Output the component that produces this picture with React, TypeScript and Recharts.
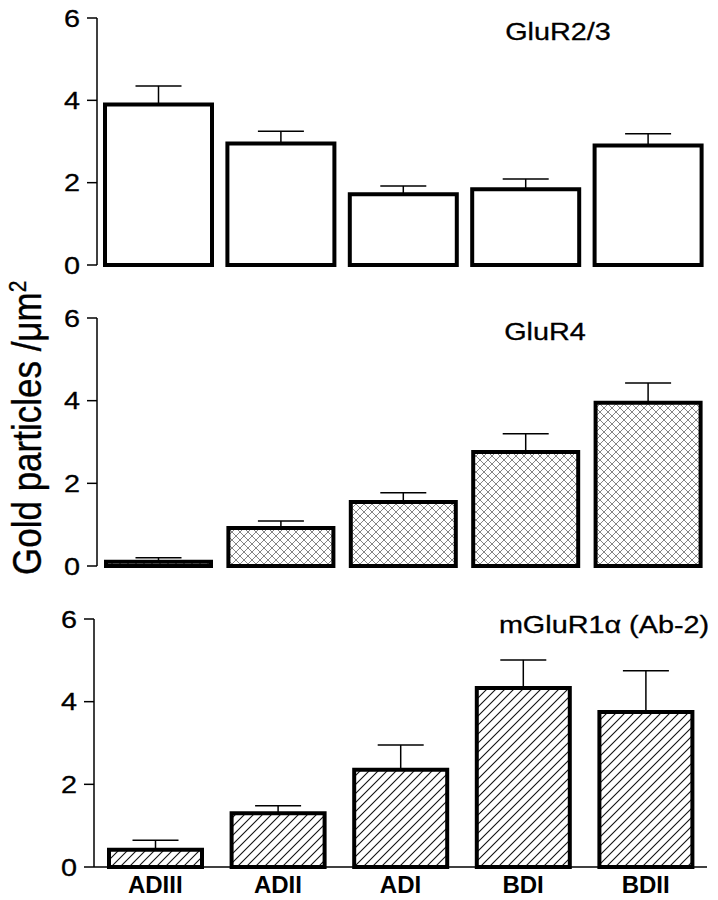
import React from "react";
import { BarChart, Bar, XAxis, YAxis, ErrorBar } from "recharts";

// regions along the dendrite
const categories = ["ADIII", "ADII", "ADI", "BDI", "BDII"];

// gold particles per um2 (mean, SEM)
const glur23 = [3.9, 2.95, 1.72, 1.84, 2.9];
const glur23Err = [0.45, 0.3, 0.2, 0.25, 0.29];

const glur4 = [0.1, 0.92, 1.55, 2.76, 3.95];
const glur4Err = [0.1, 0.17, 0.22, 0.44, 0.48];

const mglur1a = [0.42, 1.3, 2.35, 4.33, 3.75];
const mglur1aErr = [0.23, 0.18, 0.6, 0.68, 1.0];

const yTicks = [0, 2, 4, 6];

const build = (vals: number[], errs: number[]) =>
  categories.map((name, i) => ({ name, value: vals[i], err: [0, errs[i]] }));

const FONT = "'Liberation Sans', Arial, Helvetica, sans-serif";

const YTick = (props: any) => {
  const { x, y, payload } = props;
  return (
    <g transform={`translate(${x},${y})`}>
      <text
        transform="scale(1.2,1)"
        textAnchor="end"
        dy="0.36em"
        fontSize="24px"
        fill="#000"
        stroke="#000"
        strokeWidth={0.3}
        fontFamily={FONT}
      >
        {payload.value}
      </text>
    </g>
  );
};

interface PanelProps {
  data: any[];
  fill: string;
  barSize: number;
  yWidth: number;
  margin: { top: number; right: number; bottom: number; left: number };
  showLabels?: boolean;
  defs?: React.ReactNode;
}

function Panel({ data, fill, barSize, yWidth, margin, showLabels, defs }: PanelProps) {
  return (
    <BarChart width={718} height={300} data={data} margin={margin}>
      {defs}
      <XAxis
        dataKey="name"
        axisLine={{ stroke: "#000", strokeWidth: 1.5 }}
        tickLine={false}
        tick={showLabels ? { fill: "#000", fontSize: 24, fontWeight: "bold", fontFamily: FONT } : false}
        tickMargin={3}
        height={showLabels ? 30 : 0}
      />
      <YAxis
        domain={[0, 6]}
        ticks={yTicks}
        width={yWidth}
        tickSize={10}
        tickMargin={7}
        axisLine={{ stroke: "#000", strokeWidth: 1.5 }}
        tickLine={{ stroke: "#000", strokeWidth: 1.5 }}
        tick={(p: any) => <YTick {...p} />}
      />
      <Bar dataKey="value" fill={fill} stroke="#000" strokeWidth={4} barSize={barSize} isAnimationActive={false}>
        <ErrorBar dataKey="err" width={23} stroke="#000" strokeWidth={1.5} direction="y" />
      </Bar>
    </BarChart>
  );
}

export default function App() {
  return (
    <div style={{ position: "absolute", left: 0, top: 0, width: 718, height: 900, background: "#fff", fontFamily: FONT }}>
      <div style={{ position: "absolute", left: 0, top: 0 }}>
        <Panel
          data={build(glur23, glur23Err)}
          fill="#fff"
          barSize={107}
          yWidth={97}
          margin={{ top: 18, right: 9, bottom: 35, left: 0 }}
        />
      </div>
      <div style={{ position: "absolute", left: 0, top: 300 }}>
        <Panel
          data={build(glur4, glur4Err)}
          fill="url(#crossHatch)"
          barSize={105}
          yWidth={97}
          margin={{ top: 18, right: 9, bottom: 34, left: 0 }}
          defs={
            <defs>
              <pattern id="crossHatch" patternUnits="userSpaceOnUse" width={8} height={8}>
                <rect width={8} height={8} fill="#fff" />
                <path d="M0,0 L8,8 M8,0 L0,8" stroke="#666" strokeWidth={0.8} />
              </pattern>
            </defs>
          }
        />
      </div>
      <div style={{ position: "absolute", left: 0, top: 600 }}>
        <Panel
          data={build(mglur1a, mglur1aErr)}
          fill="url(#diagHatch)"
          barSize={93}
          yWidth={94}
          margin={{ top: 19, right: 11, bottom: 3, left: 0 }}
          showLabels
          defs={
            <defs>
              <pattern id="diagHatch" patternUnits="userSpaceOnUse" width={9} height={9}>
                <rect width={9} height={9} fill="#fff" />
                <path d="M0,9 L9,0 M-2,2 L2,-2 M7,11 L11,7" stroke="#111" strokeWidth={1.1} />
              </pattern>
            </defs>
          }
        />
      </div>
      <svg width={718} height={900} style={{ position: "absolute", left: 0, top: 0, pointerEvents: "none" }}>
        <g fontFamily={FONT} fill="#000" stroke="#000" strokeWidth={0.3}>
          <text transform="translate(558,40) scale(1.2,1)" textAnchor="middle" fontSize={24}>
            GluR2/3
          </text>
          <text transform="translate(545,340) scale(1.2,1)" textAnchor="middle" fontSize={24}>
            GluR4
          </text>
          <text transform="translate(604,633) scale(1.2,1)" textAnchor="middle" fontSize={24}>
            mGluR1α (Ab-2)
          </text>
          <text transform="translate(41,575) rotate(-90) scale(1,1.15)" fontSize={35}>
            Gold particles /μm
            <tspan dy={-13} fontSize={21}>
              2
            </tspan>
          </text>
        </g>
      </svg>
    </div>
  );
}
